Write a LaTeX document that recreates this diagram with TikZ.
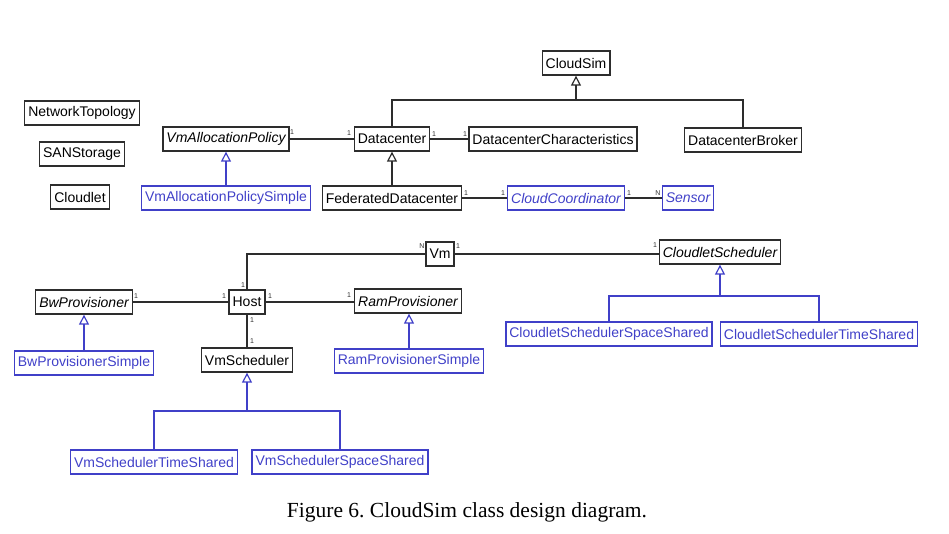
\documentclass[tikz,border=0pt]{standalone}
\usepackage{fontspec}
\setmainfont{Liberation Serif}
\setsansfont{Liberation Sans}
\usetikzlibrary{arrows.meta,calc}
\definecolor{umlblue}{RGB}{64,64,200}
\definecolor{umlgray}{RGB}{45,45,45}
\frenchspacing
\begin{document}
\begin{tikzpicture}[x=1pt,y=-1pt,
  cls/.style={draw=umlgray,line width=1.3pt,font=\sffamily\fontsize{14}{16}\selectfont,
    minimum height=24pt,inner xsep=3.5pt,inner ysep=0pt,text=black},
  acls/.style={cls,font=\sffamily\itshape\fontsize{14}{16}\selectfont},
  bcls/.style={cls,draw=umlblue,text=umlblue},
  bacls/.style={acls,draw=umlblue,text=umlblue},
  assoc/.style={draw=umlgray,line width=1.3pt},
  gen/.style={draw=umlgray,line width=1.3pt,-{Triangle[open,width=10pt,length=10pt,line width=1.2pt]}},
  bgen/.style={gen,draw=umlblue},
  bline/.style={draw=umlblue,line width=1.3pt},
  mult/.style={font=\sffamily\fontsize{7}{8}\selectfont,inner sep=0pt,text=umlgray}]
\useasboundingbox (0,0) rectangle (949,533);
% classes
\node[cls] (cs) at (576,63) {CloudSim};
\node[cls] (nt) at (82,113) {NetworkTopology};
\node[cls] (san) at (82,154) {SANStorage};
\node[cls] (cl) at (80,197) {Cloudlet};
\node[acls] (vap) at (226,139) {VmAllocationPolicy};
\node[bcls] (vaps) at (226,198) {VmAllocationPolicySimple};
\node[cls] (dc) at (392,139) {Datacenter};
\node[cls] (dcc) at (553,139) {DatacenterCharacteristics};
\node[cls] (dcb) at (743,140) {DatacenterBroker};
\node[cls] (fdc) at (392,198) {FederatedDatacenter};
\node[bacls] (cc) at (566,198) {CloudCoordinator};
\node[bacls] (sen) at (688,198) {Sensor};
\node[cls] (vm) at (440,254) {Vm};
\node[acls] (csch) at (720,252) {CloudletScheduler};
\node[cls] (host) at (247,302) {Host};
\node[acls] (bw) at (84,302) {BwProvisioner};
\node[bcls] (bws) at (84,363) {BwProvisionerSimple};
\node[cls] (vms) at (247,360) {VmScheduler};
\node[acls] (ram) at (408,301) {RamProvisioner};
\node[bcls] (rams) at (409,361) {RamProvisionerSimple};
\node[bcls] (cssp) at (609,334) {CloudletSchedulerSpaceShared};
\node[bcls] (cstm) at (819,334) {CloudletSchedulerTimeShared};
\node[bcls] (vmst) at (154,462) {VmSchedulerTimeShared};
\node[bcls] (vmss) at (340,462) {VmSchedulerSpaceShared};
% generalizations
\coordinate (csj) at (576,100);
\draw[assoc] (dc.north) |- (csj) -| (dcb.north);
\draw[gen] (csj) -- (cs.south);
\draw[bgen] (vaps.north) -- (vap.south);
\draw[gen] (fdc.north) -- (dc.south);
\draw[bgen] (bws.north) -- (bw.south);
\draw[bgen] (rams.north) -- (rams.north |- ram.south);
\coordinate (csj2) at (720,296);
\draw[bline] (cssp.north) |- (csj2) -| (cstm.north);
\draw[bgen] (csj2) -- (csch.south);
\coordinate (vmj) at (247,411);
\draw[bline] (vmst.north) |- (vmj) -| (vmss.north);
\draw[bgen] (vmj) -- (vms.south);
% associations
\draw[assoc] (vap.east) -- (dc.west);
\draw[assoc] (dc.east) -- (dcc.west);
\draw[assoc] (fdc.east) -- (cc.west);
\draw[assoc] (cc.east) -- (sen.west);
\draw[assoc] (vm.west) -| (host.north);
\draw[assoc] (vm.east) -- (csch.west |- vm.east);
\draw[assoc] (bw.east) -- (host.west);
\draw[assoc] (host.east) -- (ram.west |- host.east);
\draw[assoc] (host.south) -- (vms.north);
% multiplicities
\node[mult] (m1) at (292,132) {1};
\node[mult] (m2) at (349,133) {1};
\node[mult] (m3) at (434,134) {1};
\node[mult] (m4) at (465,134) {1};
\node[mult] (m5) at (466,193) {1};
\node[mult] (m6) at (503,193) {1};
\node[mult] (m7) at (629,193) {1};
\node[mult] (m8) at (658,193) {N};
\node[mult] (m9) at (422,246) {N};
\node[mult] (m10) at (458,246) {1};
\node[mult] (m11) at (655,245) {1};
\node[mult] (m12) at (243,285) {1};
\node[mult] (m13) at (224,296) {1};
\node[mult] (m14) at (136,296) {1};
\node[mult] (m15) at (270,296) {1};
\node[mult] (m16) at (349,295) {1};
\node[mult] (m17) at (252,320) {1};
\node[mult] (m18) at (252,341) {1};
% caption
\node[font=\fontsize{21.5}{24}\selectfont] (cap) at (467,512) {Figure 6. CloudSim class design diagram.};
\end{tikzpicture}
\end{document}
